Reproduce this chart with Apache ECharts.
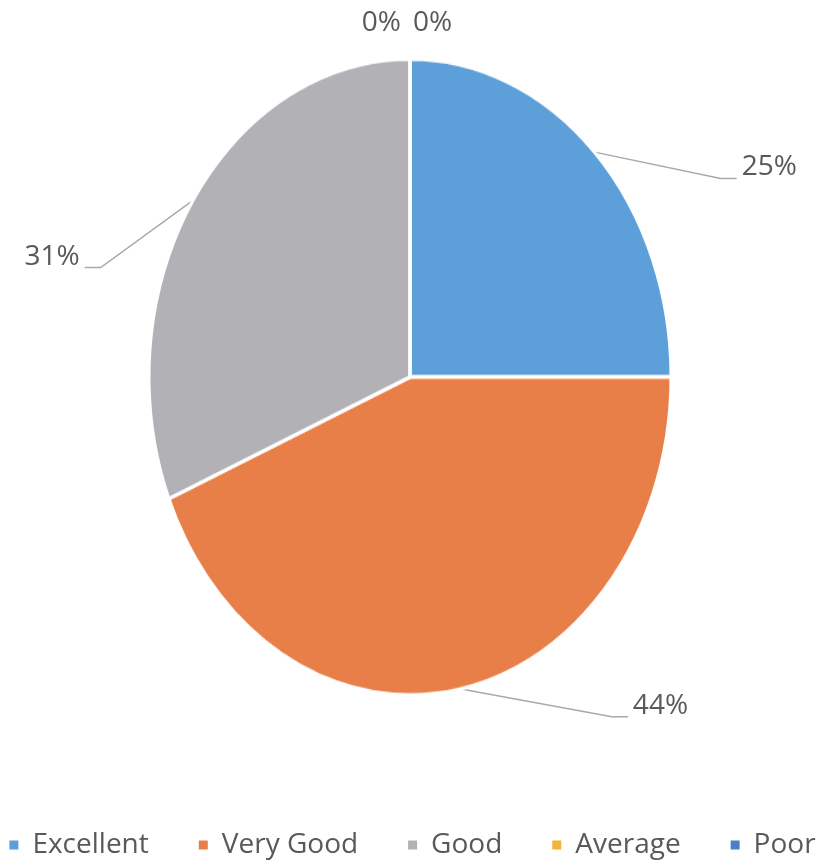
<!DOCTYPE html>
<html><head><meta charset="utf-8">
<script src="https://cdn.jsdelivr.net/npm/echarts@6/dist/echarts.min.js"></script>
<style>
html,body{margin:0;padding:0;background:#fff;}
#wrap{position:relative;width:823px;height:863px;overflow:hidden;}
#labels,#pie{position:absolute;left:0;top:0;width:823px;height:863px;}
#pie{pointer-events:none;}
</style></head><body>
<div id="wrap"><div id="labels"></div><div id="pie"></div></div>
<script>
// ---- data ----
const categories = ['Excellent', 'Very Good', 'Good', 'Average', 'Poor'];
const responses = [4, 7, 5, 0, 0];
const colors = ['#5d9fd8', '#e97f48', '#b2b1b5', '#f5b33a', '#4a7fc9'];

// ---- layout / style (ellipse drawn as a vertically stretched circle) ----
const CX = 410, CY = 377, R = 261, K = 318 / 261;
const lineLen2 = [135, 165, 100, 20, 20];
const labelDy = [24, 5, 63, 0, 0];
const TAIL = 16;
document.getElementById('pie').style.transformOrigin = CX + 'px ' + CY + 'px';
document.getElementById('pie').style.transform = 'scaleY(' + K + ')';

const FONT = 'Open Sans';
const baseSeries = {
  type: 'pie', center: [CX, CY], radius: R, startAngle: 90, clockwise: true,
  percentPrecision: 0, avoidLabelOverlap: false,
  itemStyle: { borderColor: '#fff', borderWidth: 3 }
};

const labelChart = echarts.init(document.getElementById('labels'));
labelChart.setOption({
  animation: false,
  color: colors,
  legend: {
    top: 826, left: 'center', icon: 'rect', itemWidth: 11, itemHeight: 11, itemGap: 48,
    textStyle: { fontFamily: FONT, fontSize: 28, color: '#595959', padding: [0, 0, 0, 8] },
    data: categories
  },
  series: [Object.assign({}, baseSeries, {
    data: categories.map((n, i) => ({
      name: n, value: responses[i],
      labelLine: { show: responses[i] !== 0, length2: lineLen2[i] }
    })),
    label: { formatter: '{d}%', fontFamily: FONT, fontSize: 28, color: '#595959' },
    labelLine: { length: 10, length2: 130, lineStyle: { color: '#a9a9a9', width: 1.5 } },
    labelLayout: function (p) {
      const i = p.dataIndex;
      if (responses[i] === 0) {
        const order = responses.slice(0, i).filter(v => v === 0).length;
        return {
          x: CX + (order === 0 ? -9 : 3),
          y: CY - R * K - 36,
          align: order === 0 ? 'right' : 'left'
        };
      }
      const r = p.labelRect;
      const mid = r.y + r.height / 2;
      const newMid = CY + (mid - CY) * K + labelDy[i];
      const res = { y: newMid };
      if (p.labelLinePoints) {
        const pts = p.labelLinePoints.map(pt => [pt[0], CY + (pt[1] - CY) * K]);
        const end = pts[2];
        const dir = end[0] > pts[0][0] ? 1 : -1;
        const tailY = newMid + 11;
        pts[1] = [end[0] - dir * TAIL, tailY];
        pts[2] = [end[0], tailY];
        res.labelLinePoints = pts;
      }
      return res;
    }
  })]
});

const pieChart = echarts.init(document.getElementById('pie'));
pieChart.setOption({
  animation: false,
  color: colors,
  series: [Object.assign({}, baseSeries, {
    silent: true,
    label: { show: false }, labelLine: { show: false },
    data: categories.map((n, i) => ({ name: n, value: responses[i] }))
  })]
});
</script></body></html>
